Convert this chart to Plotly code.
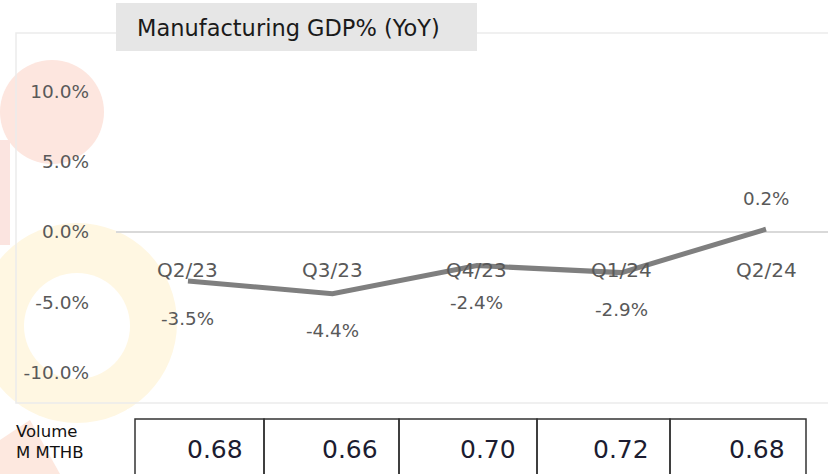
import plotly.graph_objects as go

# ---- data ----
categories = ["Q2/23", "Q3/23", "Q4/23", "Q1/24", "Q2/24"]
gdp_yoy = [-3.5, -4.4, -2.4, -2.9, 0.2]
volume = ["0.68", "0.66", "0.70", "0.72", "0.68"]
ytick_vals = [-10, -5, 0, 5, 10]
ytick_text = ["-10.0%", "-5.0%", "0.0%", "5.0%", "10.0%"]
title_text = "Manufacturing GDP% (YoY)"
row_label = "Volume<br>M MTHB"

# ---- layout geometry (pixels) ----
W, H = 828, 474
PL, PR, PT, PB = 116, 828, 33, 403


def px(x):
    return (x - PL) / (PR - PL)


def py(y):
    return (PB - y) / (PB - PT)


FONT = "DejaVu Sans"
GREY = "#595959"

fig = go.Figure()
fig.add_trace(go.Scatter(
    x=categories, y=gdp_yoy, mode="lines",
    line=dict(color="#7f7f7f", width=5),
    hoverinfo="skip", showlegend=False,
))

shapes = []
# watermark decoration (pale logo)
shapes.append(dict(type="circle", xref="paper", yref="paper", layer="below",
                   x0=px(0), x1=px(104), y0=py(60), y1=py(164),
                   fillcolor="#fde6df", line=dict(width=0)))
shapes.append(dict(type="rect", xref="paper", yref="paper", layer="below",
                   x0=px(0), x1=px(10), y0=py(140), y1=py(245),
                   fillcolor="#fbe4e0", line=dict(width=0)))
shapes.append(dict(type="circle", xref="paper", yref="paper", layer="below",
                   x0=px(-23), x1=px(177), y0=py(223), y1=py(423),
                   fillcolor="#fff7e2", line=dict(width=0)))
shapes.append(dict(type="circle", xref="paper", yref="paper", layer="below",
                   x0=px(24), x1=px(130), y0=py(273), y1=py(379),
                   fillcolor="#ffffff", line=dict(width=0)))
shapes.append(dict(type="path", xref="paper", yref="paper", layer="below",
                   path="M {a},{b} L {c},{d} L {e},{f} L {g},{h} Z".format(
                       a=px(0), b=py(440), c=px(30), d=py(420),
                       e=px(60), f=py(474), g=px(0), h=py(474)),
                   fillcolor="#fde8df", line=dict(width=0)))
# outer chart border
shapes.append(dict(type="rect", xref="paper", yref="paper", layer="below",
                   x0=px(16), x1=px(845), y0=py(33), y1=py(403),
                   line=dict(color="#ebebeb", width=1.5)))
# title box
shapes.append(dict(type="rect", xref="paper", yref="paper", layer="above",
                   x0=px(116), x1=px(477), y0=py(3), y1=py(51),
                   fillcolor="#e6e6e6", line=dict(width=0)))
# table background
shapes.append(dict(type="rect", xref="paper", yref="paper", layer="above",
                   x0=px(127), x1=px(845), y0=py(409), y1=py(480),
                   fillcolor="#ffffff", line=dict(width=0)))
# table cells
edges = [135, 264, 399, 537, 670, 806]
for i in range(len(volume)):
    shapes.append(dict(type="rect", xref="paper", yref="paper", layer="above",
                       x0=px(edges[i]), x1=px(edges[i + 1]), y0=py(419), y1=py(490),
                       line=dict(color="#333333", width=1.5)))

annotations = []
annotations.append(dict(xref="paper", yref="paper", x=px(135), y=py(28),
                        text=title_text, showarrow=False, xanchor="left", yanchor="middle",
                        font=dict(family=FONT, size=22.5, color="#1a1a1a")))
for c, v in zip(categories, gdp_yoy):
    annotations.append(dict(x=c, y=0, yshift=-38, text=c, showarrow=False,
                            xanchor="center", yanchor="middle",
                            font=dict(family=FONT, size=20, color=GREY)))
    annotations.append(dict(x=c, y=v, yshift=(-37 if v < 0 else 31),
                            text=f"{v:.1f}%", showarrow=False,
                            xanchor="center", yanchor="middle",
                            font=dict(family=FONT, size=18.3, color=GREY)))
for i, val in enumerate(volume):
    annotations.append(dict(xref="paper", yref="paper", x=px(edges[i + 1] - 19), y=py(449),
                            text=val, showarrow=False, xanchor="right", yanchor="middle",
                            font=dict(family=FONT, size=25, color="#1c1c30")))
annotations.append(dict(xref="paper", yref="paper", x=px(14), y=py(442),
                        text=row_label, showarrow=False, xanchor="left", yanchor="middle",
                        align="left",
                        font=dict(family=FONT, size=16.5, color="#111111")))

fig.update_layout(
    width=W, height=H,
    margin=dict(l=PL, r=W - PR, t=PT, b=H - PB),
    paper_bgcolor="#ffffff", plot_bgcolor="rgba(0,0,0,0)",
    showlegend=False,
    shapes=shapes, annotations=annotations,
    xaxis=dict(type="category", range=[-0.498, 4.429], showticklabels=False,
               showgrid=False, zeroline=False, showline=False, fixedrange=True),
    yaxis=dict(range=[-12.21, 14.21], tickvals=ytick_vals, ticktext=ytick_text,
               showgrid=False, zeroline=True, zerolinecolor="#d9d9d9", zerolinewidth=1.5,
               showline=False, ticks="", ticklabelstandoff=26,
               tickfont=dict(family=FONT, size=18.5, color=GREY), fixedrange=True),
)

fig.write_html("out.html", config={"displayModeBar": False},
               post_script="document.body.style.margin='0';document.body.style.overflow='hidden';")
